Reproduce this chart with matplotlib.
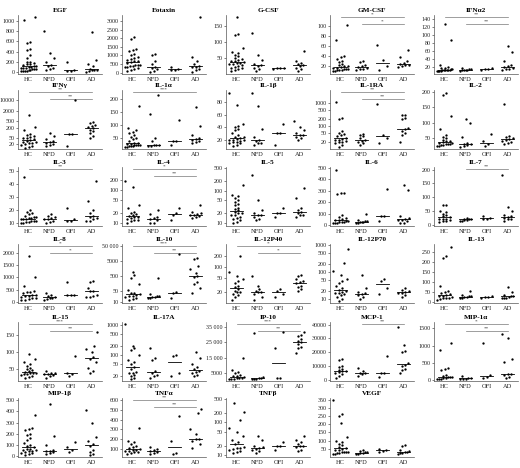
import numpy as np
import matplotlib.pyplot as plt
from matplotlib.ticker import FixedLocator, FixedFormatter, NullLocator

plt.rcParams['font.family'] = ['Liberation Serif', 'DejaVu Serif']

groups = ['HC', 'NFD', 'OFI', 'AD']

# values per group, in order HC, NFD, OFI, AD
egf = [[1020, 1080, 590, 560, 450, 440, 330, 280, 200, 190, 180, 160, 150, 130, 120,
        110, 100, 90, 85, 80, 70, 60, 55, 50, 40, 30, 25, 20, 15, 10],
       [800, 370, 280, 200, 130, 120, 70, 50, 30],
       [190, 35, 25, 20],
       [780, 230, 160, 110, 60, 40, 35, 30, 20, 5]]
eotaxin = [[2050, 1950, 1400, 1300, 1250, 1100, 1000, 900, 850, 800, 750, 700, 650, 600,
            550, 450, 440, 430, 400, 380, 350, 300, 250, 200, 150, 100],
           [1100, 1050, 650, 500, 300, 250, 200, 100, 50],
           [350, 220, 180, 150],
           [3250, 900, 650, 500, 400, 350, 300, 200, 150, 50]]
gcsf = [[178, 122, 125, 80, 70, 65, 60, 55, 50, 48, 45, 42, 40, 38, 34, 33, 32, 30, 28,
         25, 22, 20, 18, 15, 12, 10],
        [130, 60, 45, 30, 28, 25, 20, 15, 10],
        [20, 18, 18, 17],
        [73, 42, 35, 30, 27, 25, 20, 15, 10]]
gmcsf = [[103, 73, 40, 38, 35, 30, 28, 25, 22, 20, 20, 18, 17, 16, 15, 15, 14, 13, 12, 12,
          11, 10],
         [31, 28, 22, 20, 18, 17, 15, 14, 12],
         [62, 32, 20, 12],
         [52, 38, 30, 27, 25, 23, 22, 20, 18]]
ifna2 = [[128, 88, 25, 20, 18, 17, 16, 15, 14, 14, 13, 13, 12, 12, 11, 11, 10, 10],
         [18, 16, 15, 14, 13, 13, 12, 11],
         [18, 16, 15, 14],
         [72, 58, 35, 25, 22, 20, 18, 16, 15, 12]]

ifng = [[1200, 220, 150, 80, 70, 60, 55, 50, 45, 40, 35, 30, 28, 25, 24, 22, 20, 18, 15,
         14, 12],
        [90, 60, 40, 30, 25, 22, 20, 18, 15],
        [9500, 80, 80, 15],
        [450, 380, 300, 260, 220, 200, 150, 120, 90, 60, 45]]
il1a = [[172, 90, 80, 75, 70, 60, 55, 50, 45, 40, 32, 30, 28, 26, 25, 25, 24, 22, 20, 20,
         18, 15, 15],
        [215, 142, 50, 40, 25, 25, 22, 20, 18],
        [120, 40, 38, 25],
        [168, 95, 60, 50, 45, 42, 40, 35, 30]]
il1b = [[95, 76, 45, 42, 40, 38, 35, 30, 28, 25, 24, 22, 21, 20, 20, 19, 18, 17, 16, 15,
         14, 12, 10],
        [95, 75, 38, 25, 20, 18, 15, 14, 12],
        [45, 30, 30, 12],
        [50, 40, 35, 30, 28, 27, 25, 22, 20]]
il1ra = [[1100, 220, 190, 60, 50, 45, 40, 35, 30, 28, 25, 24, 22, 20, 20, 18, 15, 12],
         [45, 40, 35, 30, 25, 22, 20, 18, 15],
         [900, 40, 30, 18],
         [300, 280, 220, 200, 80, 70, 60, 50, 40, 20]]
il2 = [[195, 190, 120, 80, 60, 55, 50, 45, 42, 40, 38, 35, 33, 32, 30, 30, 28, 27, 26, 25],
       [110, 100, 55, 35, 32, 30, 28, 25, 22],
       [62, 40, 30, 25],
       [160, 58, 55, 50, 48, 45, 42, 38, 35, 30]]

il3 = [[45, 20, 19, 18, 17, 16, 15, 15, 14, 14, 13, 13, 13, 12, 12, 12, 11, 11, 10, 10],
       [17, 16, 15, 14, 13, 13, 12, 11, 10],
       [22, 13, 12, 12],
       [42, 27, 20, 18, 16, 15, 14, 13, 12, 12]]
il4 = [[190, 120, 35, 28, 22, 20, 18, 17, 16, 15, 15, 14, 13, 12, 12, 11, 10],
       [25, 18, 15, 14, 13, 12, 10, 10],
       [28, 20, 17, 12],
       [35, 22, 20, 18, 17, 17, 16, 15, 14]]
il5 = [[150, 75, 70, 60, 50, 45, 40, 35, 30, 28, 25, 22, 20, 20, 18, 17, 15, 14, 13, 12,
        11, 10],
       [300, 50, 25, 20, 18, 17, 15, 13, 12],
       [30, 20, 20, 15],
       [120, 60, 30, 25, 22, 20, 18, 17, 15]]
il6 = [[480, 285, 275, 280, 85, 70, 60, 50, 45, 40, 35, 30, 28, 25, 22, 20, 18, 15],
       [100, 45, 35, 30, 28, 25, 22, 20, 18],
       [320, 80, 80, 30],
       [350, 305, 80, 60, 50, 45, 40, 30, 20, 15]]
il7 = [[72, 70, 50, 45, 40, 35, 30, 28, 22, 22, 20, 18, 15, 12, 10],
       [25, 22, 20, 20, 18, 18, 15, 12],
       [30, 25, 22, 20],
       [182, 65, 48, 35, 30, 28, 25, 22, 20, 15]]

il8 = [[1870, 1030, 650, 450, 420, 400, 350, 300, 280, 250, 230, 200, 180, 150, 120, 100,
        80],
       [380, 300, 250, 200, 180, 150, 120, 100],
       [800, 300, 280, 270],
       [850, 800, 550, 450, 430, 300, 250, 220, 200]]
il10 = [[1000, 600, 400, 150, 60, 40, 35, 30, 28, 25, 22, 20, 18, 15, 12],
        [400, 30, 25, 22, 20, 20, 18, 18],
        [15000, 45, 35, 18],
        [8000, 7000, 2500, 1500, 800, 500, 450, 200, 150, 80, 40]]
il12p40 = [[200, 70, 55, 45, 40, 35, 30, 28, 25, 22, 20, 20, 18, 17, 15, 12],
           [55, 30, 25, 22, 20, 20, 18, 15, 12],
           [25, 22, 18, 15],
           [60, 55, 45, 40, 38, 35, 30, 28, 25, 22]]
il12p70 = [[700, 220, 110, 80, 55, 45, 40, 30, 25, 22, 20, 18, 17, 16, 15, 14, 12, 10, 8],
           [75, 25, 18, 16, 15, 14, 12, 10],
           [55, 45, 25, 15],
           [25, 22, 20, 18, 17, 16, 14, 12]]
il13 = [[275, 230, 220, 80, 55, 50, 45, 40, 35, 30, 28, 25, 22, 20, 18, 15, 12],
        [55, 35, 30, 28, 25, 25, 22, 20],
        [28, 25, 25, 22],
        [75, 50, 35, 30, 28, 25, 22, 20, 18]]

il15 = [[95, 80, 70, 65, 60, 55, 50, 48, 45, 42, 40, 40, 38, 36, 35, 33, 30, 28, 25],
        [45, 40, 38, 35, 35, 32, 30, 25],
        [88, 40, 35, 30],
        [160, 120, 110, 100, 85, 80, 70, 55, 45, 40]]
il17a = [[1100, 200, 180, 150, 100, 70, 60, 50, 40, 35, 28, 25, 25, 22, 20, 18, 16],
         [180, 70, 80, 30, 25, 22, 20, 18],
         [100, 95, 25, 20],
         [130, 80, 50, 40, 35, 30, 28, 25, 22, 20]]
ip10 = [[15000, 7000, 5500, 4500, 3500, 3000, 2500, 2000, 1800, 1500, 1200, 1000, 800, 600],
        [31000, 2000, 1500, 1200, 1000, 900, 800],
        [32000, 21000, 1500, 1500],
        [32000, 30000, 29000, 27000, 26000, 25000, 24000, 22000, 21000, 18000]]
mcp1 = [[15000, 14000, 10000, 9000, 8000, 7000, 6500, 6000, 5500, 5000, 4000, 3000, 1000],
        [8500, 6000, 5000, 4500, 4000, 3000],
        [17000, 5000, 4500, 2000],
        [38000, 25000, 21000, 20000, 12000, 11000, 10000, 8000, 7000, 5000]]
mip1a = [[1080, 880, 350, 320, 300, 150, 120, 100, 90, 90, 70, 60, 50, 40, 30],
         [120, 80, 60, 50, 40, 35],
         [1080, 150, 100, 80],
         [1320, 1220, 600, 520, 180, 170, 150, 100, 60]]

mip1b = [[370, 250, 240, 235, 200, 195, 160, 150, 120, 100, 90, 80, 70, 65, 60, 55, 50, 45,
          40, 35, 30, 20, 10],
         [470, 185, 105, 60, 50, 45, 40, 30, 20],
         [130, 80, 60, 40],
         [410, 300, 170, 140, 110, 90, 60, 40, 20, 10]]
tnfa = [[320, 180, 170, 150, 130, 120, 110, 100, 95, 90, 85, 80, 75, 70, 60, 50],
        [120, 100, 90, 80, 70, 60, 50],
        [440, 180, 60, 50],
        [510, 470, 300, 250, 200, 200, 180, 150, 110]]
tnfb = [[380, 210, 120, 70, 50, 40, 30, 25, 22, 18, 17, 17, 16, 15, 14, 13, 12],
        [40, 30, 20, 18, 17, 16, 15, 14, 12],
        [25, 20, 20, 15],
        [40, 30, 25, 22, 20, 19, 18, 15, 14]]
vegf = [[345, 262, 250, 205, 120, 100, 90, 80, 75, 60, 55, 50, 45, 40, 32, 30, 30, 28, 25,
         22, 20, 18],
        [40, 35, 30, 28, 25, 22, 20, 18],
        [48, 42, 38, 30],
        [75, 65, 40, 35, 30, 28, 25, 22, 20]]

# title, data, scale, ticks, tick labels (None = plain), y limits, significance bars
panels = [
    ('EGF', egf, 'linear', [0, 200, 400, 600, 800, 1000], None, (-40, 1120), []),
    ('Eotaxin', eotaxin, 'linear', [0, 500, 1000, 1500, 2000, 2500, 3000], None, (-80, 3350), []),
    ('G-CSF', gcsf, 'linear', [50, 100, 150], None, (0, 185), []),
    ('GM-CSF', gmcsf, 'linear', [20, 40, 60, 80, 100], None, (5, 122), [(0, 3, '*'), (1, 3, '*')]),
    ('IFNα2', ifna2, 'linear', [20, 40, 60, 80, 100, 120, 140], None, (3, 150),
     [(0, 3, '**'), (1, 3, '**')]),
    ('IFNγ', ifng, 'log', [20, 50, 200, 500, 2000, 10000], None, (10, 40000),
     [(0, 3, '**'), (1, 3, '**')]),
    ('IL-1α', il1a, 'linear', [50, 100, 150, 200], None, (8, 235), [(0, 3, '***')]),
    ('IL-1β', il1b, 'linear', [20, 40, 60, 80], None, (5, 100), []),
    ('IL-1RA', il1ra, 'log', [20, 50, 100, 200, 500, 1000], None, (10, 3500),
     [(0, 3, '**'), (1, 3, '**')]),
    ('IL-2', il2, 'linear', [50, 100, 150, 200], None, (15, 205), []),
    ('IL-3', il3, 'linear', [10, 20, 30, 40, 50], None, (8, 53), [(0, 3, '**')]),
    ('IL-4', il4, 'log', [10, 20, 50, 100, 200], None, (8, 500), [(0, 3, '*'), (1, 3, '**')]),
    ('IL-5', il5, 'log', [10, 20, 50, 100, 200, 500], None, (8, 550), []),
    ('IL-6', il6, 'linear', [0, 100, 200, 300, 400, 500], None, (-10, 510), []),
    ('IL-7', il7, 'linear', [0, 50, 100, 150, 200], None, (-5, 210), [(1, 3, '**')]),
    ('IL-8', il8, 'linear', [0, 500, 1000, 1500, 2000], None, (-40, 2350),
     [(0, 3, '*'), (1, 3, '*')]),
    ('IL-10', il10, 'log', [10, 50, 500, 5000, 50000], ['10', '50', '500', '5000', '50 000'],
     (8, 70000), [(0, 3, '***'), (1, 3, '**')]),
    ('IL-12P40', il12p40, 'log', [20, 50, 100, 200], None, (10, 420), [(0, 3, '*'), (1, 3, '*')]),
    ('IL-12P70', il12p70, 'log', [10, 20, 50, 100, 200, 500, 1000], None, (7, 1100), []),
    ('IL-13', il13, 'linear', [0, 50, 100, 150, 200, 250], None, (-5, 290), []),
    ('IL-15', il15, 'linear', [50, 100, 150], None, (15, 190), [(0, 3, '***'), (1, 3, '**')]),
    ('IL-17A', il17a, 'log', [20, 50, 100, 200, 500, 1000], None, (14, 1300), []),
    ('IP-10', ip10, 'linear', [5000, 15000, 25000, 35000], ['5000', '15 000', '25 000', '35 000'],
     (-500, 38500), [(0, 3, '***'), (1, 3, '**')]),
    ('MCP-1', mcp1, 'linear', [0, 10000, 20000, 30000, 40000], None, (-1000, 42000),
     [(1, 3, '**')]),
    ('MIP-1α', mip1a, 'linear', [0, 500, 1000, 1500], None, (-20, 1680),
     [(0, 3, '*'), (1, 3, '**')]),
    ('MIP-1β', mip1b, 'linear', [0, 100, 200, 300, 400, 500], None, (-5, 520), []),
    ('TNFα', tnfa, 'linear', [100, 200, 300, 400, 500, 600], None, (20, 620),
     [(0, 3, '**'), (1, 3, '**')]),
    ('TNFβ', tnfb, 'log', [10, 20, 50, 100, 200, 500], None, (9, 550), []),
    ('VEGF', vegf, 'linear', [50, 100, 150, 200, 250, 300, 350], None, (0, 360), []),
]

# column order used to place lone points sideways (fractions of half-width)
LONE_COLS = [-0.6, 0.8, 0.0, -1.0, 0.4, 1.0, -0.3]


def spread(vals, scale, ylim, width, step, binsize=0.045):
    # rough swarm: points close in height share a row, lone points go to set columns
    vals = np.asarray(vals, dtype=float)
    f = np.log10 if scale == 'log' else (lambda v: v)
    lo, hi = f(ylim[0]), f(ylim[1])
    pos = (f(vals) - lo) / (hi - lo)
    offs = np.zeros(len(vals))
    order = np.argsort(pos)
    i = 0
    lone = 0
    while i < len(order):
        j = i
        while j + 1 < len(order) and pos[order[j + 1]] - pos[order[i]] < binsize:
            j += 1
        row = order[i:j + 1]
        n = len(row)
        if n == 1:
            offs[row[0]] = LONE_COLS[lone % len(LONE_COLS)] * width
            lone += 1
        else:
            d = min(step, 2 * width / (n - 1))
            xs = (np.arange(n) - (n - 1) / 2) * d
            offs[row] = xs
        i = j + 1
    return offs


W, H = 520, 468
fig = plt.figure(figsize=(W / 100, H / 100), dpi=100)
fig.patch.set_facecolor('white')

col_left = [18, 122, 226, 330, 434]
row_bottom = [74, 149, 226, 303, 381, 457]
ax_w, ax_h = 84, 59
spine_col = '#555555'

for n, (title, data, scale, ticks, labels, ylim, sigs) in enumerate(panels):
    r, c = divmod(n, 5)
    ax = fig.add_axes([col_left[c] / W, 1 - row_bottom[r] / H, ax_w / W, ax_h / H])
    ax.set_yscale(scale)
    for g, vals in enumerate(data):
        width = 0.38 if g == 0 else 0.27
        offs = spread(vals, scale, ylim, width, 0.19)
        ax.scatter(g + offs, vals, s=2.8, color='black', linewidths=0, zorder=3)
        med = np.median(vals)
        ax.plot([g - 0.3, g + 0.3], [med, med], color='black', lw=0.6, zorder=2)

    ax.set_xlim(-0.5, 3.5)
    ax.set_ylim(*ylim)
    ax.yaxis.set_major_locator(FixedLocator(ticks))
    ax.yaxis.set_major_formatter(FixedFormatter(labels if labels else [str(t) for t in ticks]))
    ax.yaxis.set_minor_locator(NullLocator())
    ax.set_xticks(range(4))
    ax.set_xticklabels(groups)
    ax.tick_params(axis='y', labelsize=4.3, length=1.5, width=0.4, pad=1, colors='#222222')
    ax.tick_params(axis='x', labelsize=4.6, length=0, pad=2.5, colors='#222222')
    for side in ('top', 'right'):
        ax.spines[side].set_visible(False)
    for side in ('left', 'bottom'):
        ax.spines[side].set_color(spine_col)
        ax.spines[side].set_linewidth(0.5)
    ax.set_title(title, fontsize=5.2, fontweight='bold', pad=2.5)

    tr = ax.get_xaxis_transform()
    for k, (g1, g2, stars) in enumerate(sigs):
        yb = 0.97 - 0.12 * k
        ax.plot([g1, g2], [yb, yb], color='#777777', lw=0.5, transform=tr, clip_on=False)
        ax.text((g1 + g2) / 2, yb + 0.005, stars, transform=tr, ha='center', va='bottom',
                fontsize=3.8, color='#333333')

fig.savefig('out.png', dpi=100)
